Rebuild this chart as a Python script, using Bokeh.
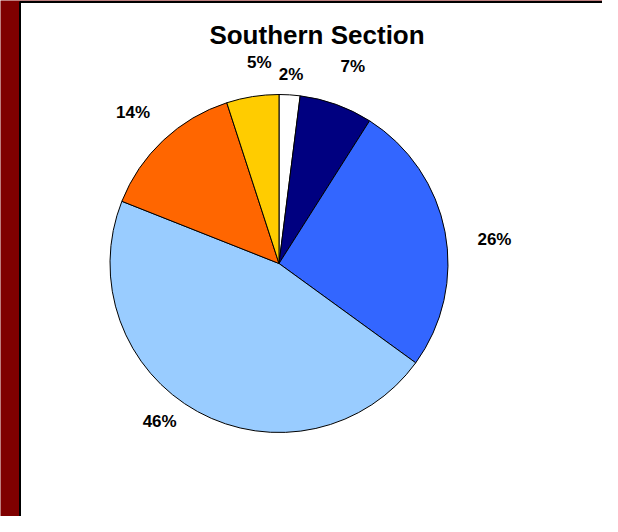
import math
from bokeh.plotting import figure
from bokeh.models import Range1d, ColumnDataSource, Label
from bokeh.core.properties import value
from bokeh.embed import file_html
from bokeh.resources import INLINE

# ---- data (clockwise from 12 o'clock) ----
title_text = "Southern Section"
shares = [2, 7, 26, 46, 14, 5]
labels = ["2%", "7%", "26%", "46%", "14%", "5%"]
colors = ["#FFFFFF", "#000080", "#3366FF", "#99CCFF", "#FF6600", "#FFCC00"]

# ---- layout (pixel coordinates of the picture, y measured from top) ----
W, H = 602, 516
BG = "#7F0000"
cx, cy_top, R = 278.5, 263.0, 169.0
label_r = 200.0
# small per-label nudges (screen px, +x right, +y down) to mimic spreadsheet label placement
nudges = [(-0.6, 11), (6, -9), (19, 13.5), (-23, -17), (-9, -5), (11.5, -3.5)]

def Y(y_top):
    return 532.0 - y_top

p = figure(width=W, height=H, output_backend="svg", toolbar_location=None,
           x_range=Range1d(0, W), y_range=Range1d(532 - H, 532),
           x_axis_type=None, y_axis_type=None, min_border=0)
p.grid.visible = False
p.outline_line_color = None
p.background_fill_color = BG
p.border_fill_color = BG

# panel shadow and panel
p.quad(left=[23], right=[613], bottom=[Y(532)], top=[Y(5)], fill_color="black", line_color=None)
p.quad(left=[19.5], right=[608.5], bottom=[Y(527)], top=[Y(1.5)], fill_color="white",
       line_color="black", line_width=2)

# wedges
total = float(sum(shares))
starts, ends, mids = [], [], []
cum = 0.0
for s in shares:
    a0 = math.pi / 2 - 2 * math.pi * cum / total
    cum += s
    a1 = math.pi / 2 - 2 * math.pi * cum / total
    starts.append(a0)
    ends.append(a1)
    mids.append((a0 + a1) / 2)

src = ColumnDataSource(dict(start=starts, end=ends, color=colors))
p.wedge(x=cx, y=Y(cy_top), radius=R, start_angle="start", end_angle="end",
        direction="clock", fill_color="color", line_color="black", line_width=1, source=src)

# labels
lx, ly = [], []
for m, (dx, dy) in zip(mids, nudges):
    lx.append(cx + label_r * math.cos(m) + dx)
    ly.append(Y(cy_top) + label_r * math.sin(m) - dy)
lsrc = ColumnDataSource(dict(x=lx, y=ly, t=labels))
p.text(x="x", y="y", text="t", source=lsrc, text_font=value("Liberation Sans"),
       text_font_style="bold", text_font_size="17px", text_align="center",
       text_baseline="middle", text_color="black")

p.add_layout(Label(x=316.5, y=Y(34), text=title_text, text_font="Liberation Sans",
                   text_font_style="bold", text_font_size="26px", text_align="center",
                   text_baseline="middle", text_color="black"))

open("out.html", "w").write(file_html(p, INLINE))
